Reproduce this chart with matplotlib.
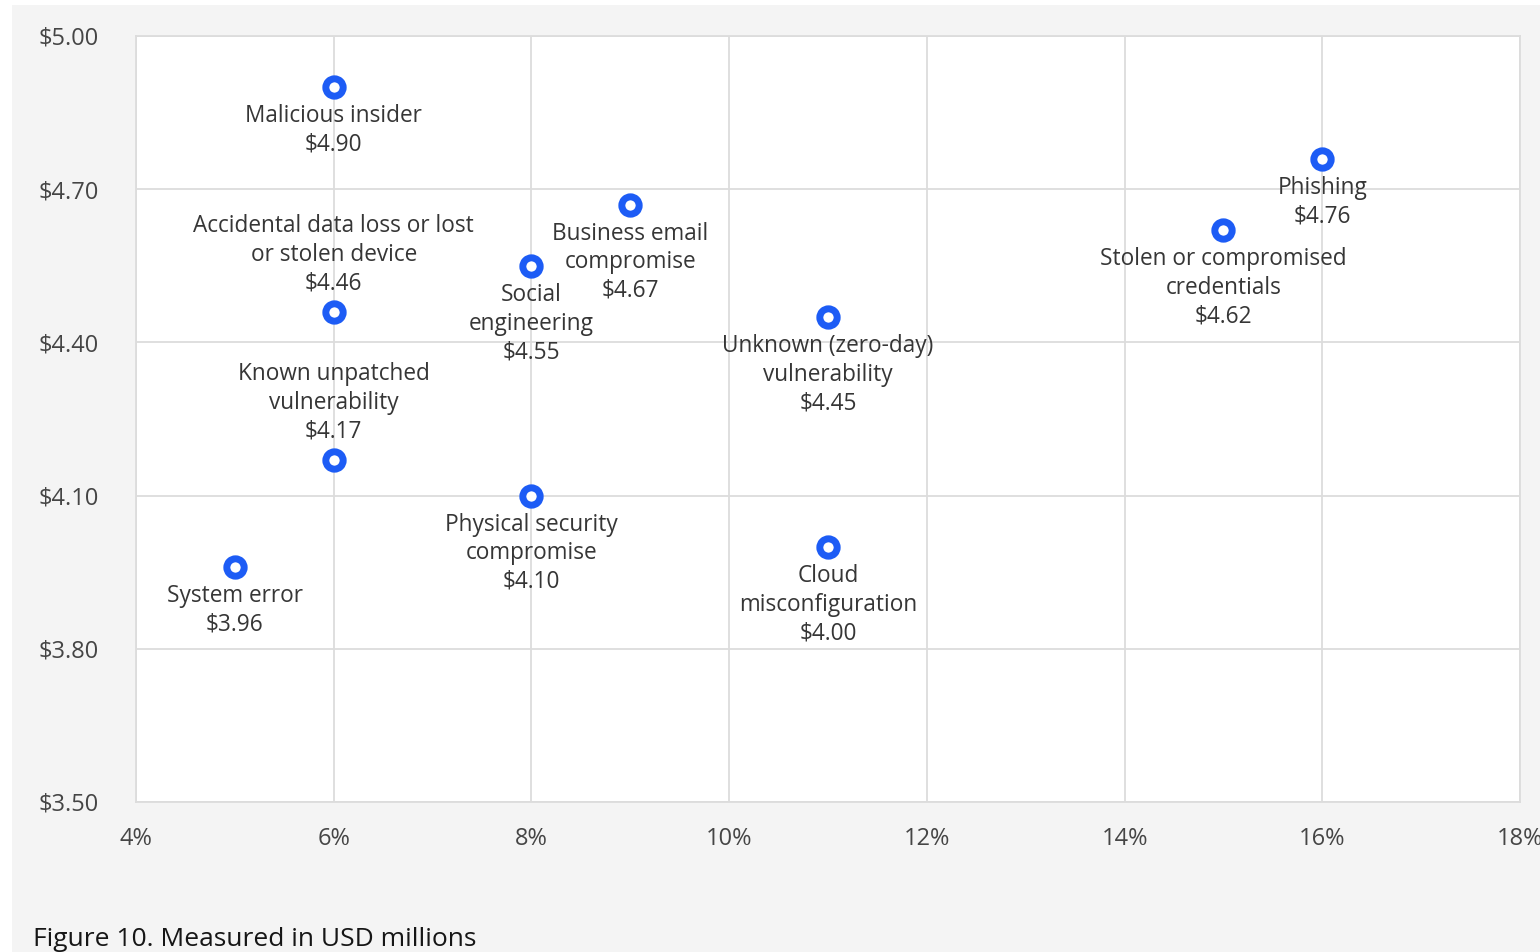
import matplotlib
matplotlib.use("Agg")
import matplotlib.pyplot as plt
from matplotlib.patches import Rectangle
from matplotlib.ticker import FuncFormatter

plt.rcParams['font.family'] = ['Open Sans', 'DejaVu Sans']

# Data
vectors = ["Malicious insider", "Phishing", "Stolen or compromised\ncredentials",
           "Business email\ncompromise", "Social\nengineering",
           "Accidental data loss or lost\nor stolen device", "Unknown (zero-day)\nvulnerability",
           "Known unpatched\nvulnerability", "Physical security\ncompromise",
           "Cloud\nmisconfiguration", "System error"]
frequency_pct = [6, 16, 15, 9, 8, 6, 11, 6, 8, 11, 5]
cost_musd = [4.90, 4.76, 4.62, 4.67, 4.55, 4.46, 4.45, 4.17, 4.10, 4.00, 3.96]
label_above = [False, False, False, False, False, True, False, True, False, False, False]

x_ticks = [4, 6, 8, 10, 12, 14, 16, 18]
y_ticks = [3.50, 3.80, 4.10, 4.40, 4.70, 5.00]

W, H = 1540, 952
fig = plt.figure(figsize=(W / 100, H / 100), dpi=100, facecolor="white")
fig.patches.append(Rectangle((12 / W, 0), 1 - 12 / W, 1 - 5 / H, transform=fig.transFigure,
                             facecolor="#f4f4f4", edgecolor="none", zorder=-10))

ax = fig.add_axes([136 / W, 1 - 802 / H, (1520 - 136) / W, (802 - 36) / H])
ax.set_facecolor("white")
ax.set_xlim(4, 18)
ax.set_ylim(3.50, 5.00)
ax.set_xticks(x_ticks)
ax.set_yticks(y_ticks)
ax.xaxis.set_major_formatter(FuncFormatter(lambda v, p: f"{v:.0f}%"))
ax.yaxis.set_major_formatter(FuncFormatter(lambda v, p: f"${v:.2f}"))
ax.grid(True, color="#dcdcdc", linewidth=1.3)
ax.set_axisbelow(True)
for s in ax.spines.values():
    s.set_color("#dcdcdc")
    s.set_linewidth(1.3)
ax.tick_params(length=0, labelsize=17, labelcolor="#454545")
ax.tick_params(axis="y", pad=27)
ax.tick_params(axis="x", pad=18)

ax.plot(frequency_pct, cost_musd, linestyle="none", marker="o", markersize=12.5,
        markerfacecolor="white", markeredgecolor="#1d5cf5", markeredgewidth=5, zorder=3)

for name, xv, yv, above in zip(vectors, frequency_pct, cost_musd, label_above):
    txt = f"{name}\n${yv:.2f}"
    if above:
        ax.annotate(txt, (xv, yv), xytext=(0, 12), textcoords="offset points",
                    ha="center", va="bottom", fontsize=16.3, color="#363636",
                    linespacing=1.25, zorder=4)
    else:
        ax.annotate(txt, (xv, yv), xytext=(0, -12.5), textcoords="offset points",
                    ha="center", va="top", fontsize=16.3, color="#363636",
                    linespacing=1.25, zorder=4)

fig.text(33 / W, 1 - 940 / H, "Figure 10. Measured in USD millions", fontsize=19,
         color="#161616", ha="left", va="center")

fig.savefig("out.png", dpi=100, facecolor=fig.get_facecolor())
